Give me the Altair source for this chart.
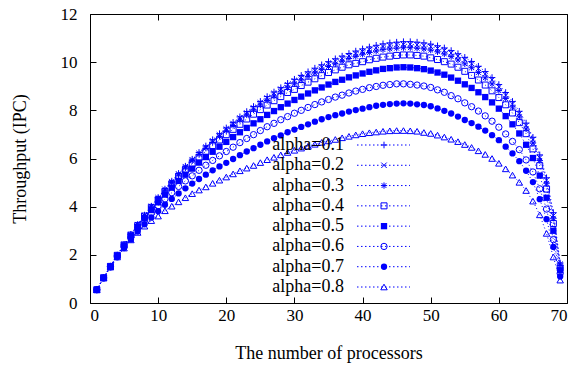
import altair as alt
import pandas as pd

FONT = "Liberation Serif"
BLUE = "#0000ff"

procs = list(range(1, 70))
labels = ["alpha=0.1", "alpha=0.2", "alpha=0.3", "alpha=0.4",
          "alpha=0.5", "alpha=0.6", "alpha=0.7", "alpha=0.8"]

a01 = [0.55,1.05,1.53,1.99,2.43,2.85,3.26,3.65,4.02,4.38,
       4.73,5.06,5.38,5.68,5.97,6.25,6.52,6.78,7.03,7.27,
       7.50,7.73,7.95,8.16,8.37,8.57,8.76,8.94,9.12,9.29,
       9.45,9.60,9.75,9.89,10.02,10.14,10.25,10.36,10.46,10.55,
       10.63,10.70,10.76,10.80,10.83,10.85,10.85,10.83,10.80,10.75,
       10.68,10.59,10.48,10.35,10.20,10.03,9.83,9.61,9.36,9.07,
       8.74,8.37,7.96,7.47,6.88,6.15,5.20,3.75,1.66]
a02 = [0.55,1.05,1.53,1.99,2.43,2.84,3.25,3.64,4.01,4.37,
       4.72,5.04,5.36,5.66,5.95,6.21,6.47,6.73,6.98,7.22,
       7.45,7.68,7.89,8.10,8.31,8.51,8.70,8.88,9.06,9.22,
       9.36,9.50,9.65,9.79,9.92,10.04,10.15,10.26,10.36,10.44,
       10.52,10.59,10.65,10.69,10.72,10.74,10.74,10.72,10.69,10.64,
       10.57,10.48,10.38,10.25,10.10,9.93,9.73,9.51,9.27,8.98,
       8.63,8.26,7.86,7.37,6.79,6.03,5.10,3.63,1.61]
a03 = [0.55,1.05,1.53,1.98,2.42,2.84,3.24,3.63,3.99,4.34,
       4.68,5.00,5.32,5.61,5.90,6.17,6.43,6.68,6.92,7.15,
       7.37,7.59,7.81,8.02,8.22,8.41,8.59,8.76,8.94,9.10,
       9.26,9.41,9.55,9.69,9.82,9.93,10.04,10.15,10.24,10.33,
       10.40,10.46,10.52,10.55,10.58,10.60,10.60,10.58,10.55,10.50,
       10.43,10.34,10.23,10.09,9.93,9.77,9.57,9.35,9.10,8.82,
       8.49,8.14,7.73,7.23,6.64,5.92,4.97,3.52,1.56]
a04 = [0.55,1.05,1.52,1.98,2.41,2.82,3.22,3.61,3.97,4.29,
       4.63,4.94,5.25,5.53,5.79,6.05,6.30,6.54,6.77,6.99,
       7.21,7.42,7.64,7.84,8.03,8.22,8.40,8.57,8.74,8.87,
       9.03,9.17,9.31,9.44,9.57,9.68,9.79,9.89,9.95,10.02,
       10.10,10.16,10.21,10.25,10.28,10.30,10.30,10.28,10.25,10.18,
       10.11,10.02,9.92,9.79,9.62,9.45,9.26,9.05,8.81,8.53,
       8.23,7.89,7.49,7.03,6.40,5.70,4.73,3.30,1.46]
a05 = [0.55,1.04,1.51,1.96,2.38,2.78,3.16,3.52,3.86,4.18,
       4.50,4.79,5.07,5.33,5.58,5.83,6.06,6.28,6.49,6.69,
       6.89,7.09,7.27,7.46,7.63,7.81,7.97,8.13,8.28,8.43,
       8.57,8.70,8.83,8.95,9.07,9.18,9.27,9.37,9.45,9.53,
       9.60,9.66,9.72,9.75,9.78,9.79,9.78,9.75,9.71,9.65,
       9.57,9.48,9.36,9.23,9.08,8.93,8.75,8.55,8.33,8.07,
       7.76,7.42,7.04,6.57,6.02,5.29,4.37,3.00,1.36]
a06 = [0.55,1.04,1.51,1.95,2.36,2.74,3.10,3.43,3.74,4.03,
       4.32,4.58,4.84,5.07,5.28,5.51,5.72,5.92,6.11,6.29,
       6.47,6.66,6.83,6.99,7.16,7.32,7.46,7.61,7.74,7.88,
       8.00,8.12,8.24,8.35,8.45,8.55,8.63,8.72,8.80,8.87,
       8.94,8.99,9.04,9.07,9.10,9.10,9.08,9.05,9.01,8.95,
       8.85,8.75,8.61,8.48,8.31,8.15,7.97,7.77,7.55,7.30,
       7.02,6.71,6.37,5.94,5.44,4.74,3.90,2.63,1.23]
a07 = [0.55,1.03,1.48,1.90,2.28,2.64,2.97,3.27,3.55,3.81,
       4.08,4.32,4.55,4.76,4.96,5.15,5.33,5.51,5.67,5.82,
       5.98,6.14,6.29,6.43,6.57,6.71,6.84,6.96,7.09,7.20,
       7.31,7.42,7.53,7.63,7.72,7.80,7.87,7.95,8.01,8.07,
       8.13,8.19,8.23,8.26,8.28,8.29,8.28,8.25,8.22,8.17,
       8.08,7.98,7.87,7.74,7.60,7.47,7.32,7.16,6.97,6.76,
       6.49,6.21,5.89,5.49,5.02,4.31,3.48,2.33,1.10]
a08 = [0.55,1.04,1.49,1.91,2.28,2.62,2.93,3.19,3.42,3.61,
       3.83,4.02,4.20,4.37,4.54,4.69,4.82,4.97,5.10,5.23,
       5.36,5.49,5.60,5.71,5.83,5.95,6.05,6.15,6.25,6.34,
       6.43,6.51,6.59,6.67,6.73,6.79,6.86,6.92,6.98,7.03,
       7.07,7.10,7.13,7.15,7.16,7.16,7.15,7.13,7.08,7.04,
       6.97,6.89,6.80,6.70,6.58,6.46,6.32,6.17,6.00,5.80,
       5.57,5.31,5.01,4.67,4.23,3.66,2.89,1.91,0.95]

series_values = [a01, a02, a03, a04, a05, a06, a07, a08]

PLUS = "M-1,0L1,0M0,-1L0,1"
XCROSS = "M-1,-1L1,1M-1,1L1,-1"
STAR = "M-1,0L1,0M0,-1L0,1M-0.75,-0.75L0.75,0.75M-0.75,0.75L0.75,-0.75"
# (shape, filled, size)
styles = [
    (PLUS, False, 44),
    (XCROSS, False, 30),
    (STAR, False, 40),
    ("square", False, 36),
    ("square", True, 40),
    ("circle", False, 40),
    ("circle", True, 40),
    ("triangle-up", False, 42),
]

X = alt.X("x:Q", scale=alt.Scale(domain=[0, 70], nice=False, zero=False),
          axis=alt.Axis(values=[0, 10, 20, 30, 40, 50, 60, 70],
                        title="The number of processors",
                        labelFont=FONT, labelFontSize=17,
                        titleFont=FONT, titleFontSize=18,
                        labelPadding=4, titlePadding=21,
                        gridDash=[6, 277]))
Y = alt.Y("y:Q", scale=alt.Scale(domain=[0, 12], nice=False),
          axis=alt.Axis(values=[0, 2, 4, 6, 8, 10, 12],
                        title="Throughput (IPC)",
                        labelFont=FONT, labelFontSize=17,
                        titleFont=FONT, titleFontSize=18,
                        labelPadding=13, titlePadding=31,
                        gridDash=[6, 465]))

data_layers = []
for lab, vals, (shape, filled, size) in zip(labels, series_values, styles):
    df = pd.DataFrame({"x": procs, "y": vals, "series": lab})
    base = alt.Chart(df)
    data_layers.append(
        base.mark_line(color=BLUE, strokeWidth=1, strokeDash=[1, 2.5])
        .encode(x=X, y=Y)
    )
    data_layers.append(
        base.mark_point(shape=shape, filled=filled, size=size, color=BLUE,
                        strokeWidth=1, opacity=1)
        .encode(x=X, y=Y)
    )

legend_df = pd.DataFrame({"label": labels})
LY = alt.Y("label:N", axis=None,
           scale=alt.Scale(type="point", domain=labels, range=[131, 273], padding=0))

legend_layers = [
    alt.Chart(legend_df).mark_text(align="right", baseline="middle", font=FONT,
                                   fontSize=18, color="black")
    .encode(x=alt.value(254), y=LY, text="label:N"),
    alt.Chart(legend_df).mark_rule(color=BLUE, strokeWidth=1, strokeDash=[1.5, 2.5])
    .encode(x=alt.value(267), x2=alt.value(320), y=LY),
]
for lab, (shape, filled, size) in zip(labels, styles):
    legend_layers.append(
        alt.Chart(legend_df).transform_filter(alt.datum.label == lab)
        .mark_point(shape=shape, filled=filled, size=size, color=BLUE,
                    strokeWidth=1, opacity=1)
        .encode(x=alt.value(294), y=LY)
    )

main = alt.layer(*data_layers)
legend = alt.layer(*legend_layers)

chart = (
    alt.layer(main, legend)
    .resolve_scale(y="independent")
    .properties(width=477, height=289,
                autosize=alt.AutoSizeParams(type="none"),
                padding={"left": 90, "top": 14, "right": 12, "bottom": 63},
                background="white")
    .configure(font=FONT)
    .configure_view(stroke="black", strokeWidth=1)
    .configure_axis(labelFont=FONT, titleFont=FONT, labelFontSize=17,
                    titleFontSize=18, labelColor="black", titleColor="black",
                    titleFontWeight="normal", domain=False, ticks=False,
                    grid=True, gridColor="black", gridOpacity=1, gridWidth=1)
)

chart.save("out.html", embed_options={"renderer": "svg", "actions": False})
